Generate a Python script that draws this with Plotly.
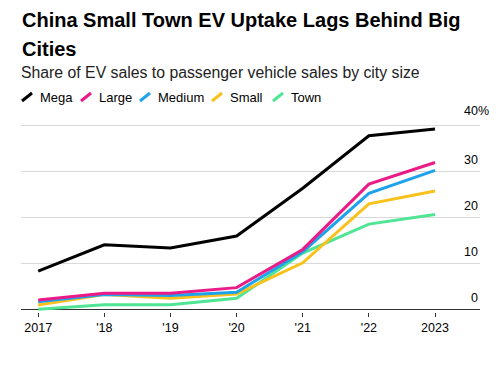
import plotly.graph_objects as go

years = [2017, 2018, 2019, 2020, 2021, 2022, 2023]
year_labels = ["2017", "'18", "'19", "'20", "'21", "'22", "2023"]
series_names = ["Mega", "Large", "Medium", "Small", "Town"]
mega = [8.4, 14.1, 13.4, 16.0, 26.4, 37.8, 39.3]
large = [2.1, 3.6, 3.6, 4.8, 13.1, 27.3, 32.0]
medium = [1.7, 3.3, 3.1, 3.8, 12.6, 25.3, 30.3]
small = [1.0, 3.3, 2.5, 3.4, 10.2, 23.0, 25.8]
town = [0.1, 1.1, 1.1, 2.5, 12.3, 18.6, 20.7]
colors = ["#000000", "#ea1a86", "#1fa2ec", "#f9c11c", "#4fe594"]
y_ticks = [0, 10, 20, 30, 40]
y_tick_labels = ["0", "10", "20", "30", "40%"]

W, H = 500, 369
L, R, T, B = 21, 20, 118, 57
PW, PH = W - L - R, H - T - B
FONT = "Liberation Sans, Arial, sans-serif"

def px(x):
    return (x - L) / PW

def py(y):
    return (H - B - y) / PH

fig = go.Figure()
values = [mega, large, medium, small, town]
# draw Town first so Mega on top
for name, vals, col in reversed(list(zip(series_names, values, colors))):
    fig.add_trace(go.Scatter(x=years, y=vals, mode="lines", name=name,
                             line=dict(color=col, width=3), showlegend=False,
                             hoverinfo="skip"))

fig.update_layout(
    width=W, height=H,
    margin=dict(l=L, r=R, t=T, b=B),
    paper_bgcolor="white", plot_bgcolor="white",
    font=dict(family=FONT, color="#000"),
    xaxis=dict(range=[2016.74, 2023.68], tickvals=years, ticktext=year_labels,
               showgrid=False, zeroline=False, ticks="outside", ticklen=4,
               tickcolor="#333", tickwidth=1, showline=False,
               tickfont=dict(size=12.5, family=FONT, color="#000")),
    yaxis=dict(range=[-0.5, 41.67], tickvals=y_ticks, showticklabels=False,
               showgrid=True, gridcolor="#d9d9d9", gridwidth=1,
               zeroline=True, zerolinecolor="#333", zerolinewidth=1),
    showlegend=False,
)

annotations = []
# title
annotations.append(dict(text="<b>China Small Town EV Uptake Lags Behind Big</b>",
                        xref="paper", yref="paper", x=px(20), y=py(20),
                        xanchor="left", yanchor="middle", showarrow=False,
                        font=dict(size=20, family=FONT)))
annotations.append(dict(text="<b>Cities</b>",
                        xref="paper", yref="paper", x=px(20), y=py(49),
                        xanchor="left", yanchor="middle", showarrow=False,
                        font=dict(size=20, family=FONT)))
annotations.append(dict(text="Share of EV sales to passenger vehicle sales by city size",
                        xref="paper", yref="paper", x=px(19), y=py(73),
                        xanchor="left", yanchor="middle", showarrow=False,
                        font=dict(size=15.8, family=FONT, color="#222")))

# y tick labels
for v, lab in zip(y_ticks, y_tick_labels):
    shift = 11 if lab.endswith("%") else 0
    annotations.append(dict(text=lab, xref="paper", yref="y", x=1, y=v,
                            xanchor="right", yanchor="bottom", xshift=shift, yshift=3 if shift == 0 else 6,
                            showarrow=False,
                            font=dict(size=12.5, family=FONT, color="#000")))

# legend
shapes = []
leg_x = [22, 81, 140, 212, 273]
leg_y = 97
for name, col, lx in zip(series_names, colors, leg_x):
    shapes.append(dict(type="line", xref="paper", yref="paper",
                       x0=px(lx), y0=py(leg_y + 4), x1=px(lx + 10), y1=py(leg_y - 4),
                       line=dict(color=col, width=3)))
    annotations.append(dict(text=name, xref="paper", yref="paper", x=px(lx + 16), y=py(leg_y + 1),
                            xanchor="left", yanchor="middle", showarrow=False,
                            font=dict(size=13, family=FONT, color="#000")))

fig.update_layout(annotations=annotations, shapes=shapes)
fig.write_html("out.html", config={"displayModeBar": False},
               post_script="document.body.style.margin='0';document.body.style.padding='0';")
